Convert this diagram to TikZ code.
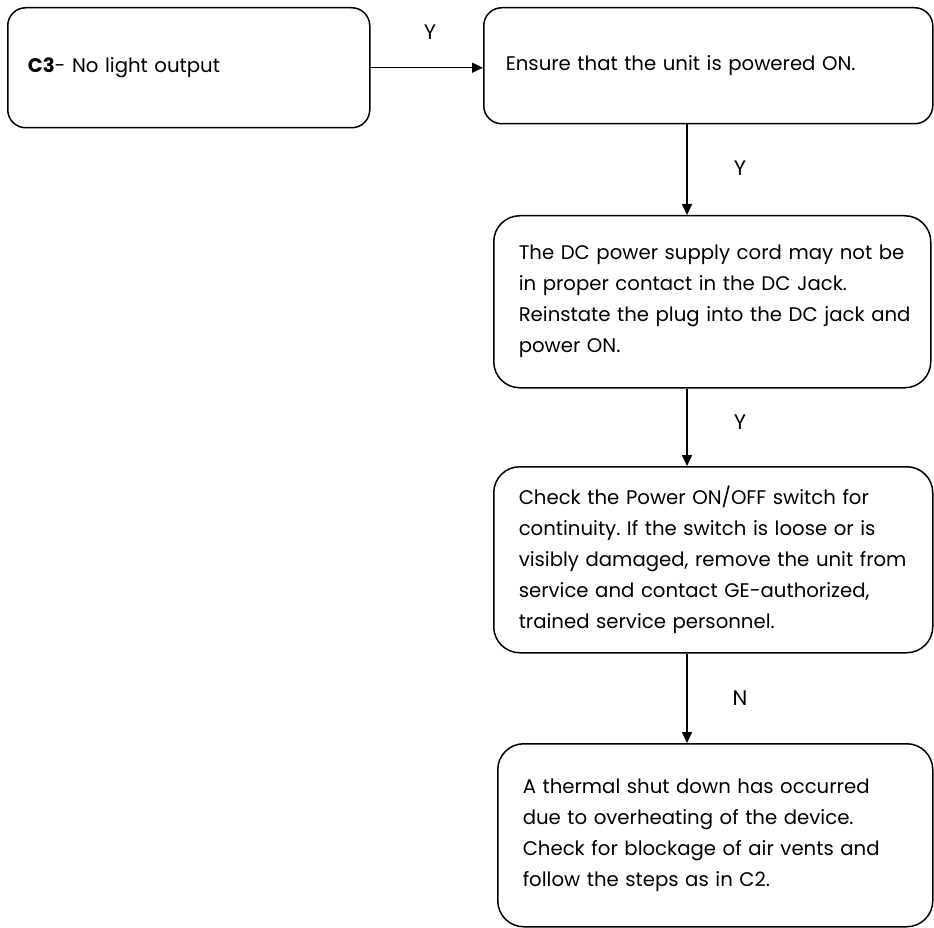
\documentclass[tikz,border=0pt]{standalone}
\usepackage{fontspec}
\setmainfont{Poppins}
\usetikzlibrary{arrows.meta}
\begin{document}
\frenchspacing
\begin{tikzpicture}[x=1pt,y=-1pt,
  box/.style={draw, line width=1.5pt, rounded corners=#1, anchor=north west,
    align=left, inner ysep=0pt, font=\fontsize{19.7}{31}\selectfont},
  box/.default=26pt,
  conn/.style={-{Triangle[length=11pt,width=10pt]}, line width=1.5pt},
  lbl/.style={font=\fontsize{21}{25}\selectfont, inner sep=0pt}]
\useasboundingbox (0,0) rectangle (934,928);
\coordinate (ax) at (687,0);

\node[box=18pt, inner xsep=20pt, text width=322pt, minimum width=362pt, minimum height=120pt]
  (c3) at (7,7) {\textbf{C3}- No light output};
\node[box=18pt, inner xsep=22pt, text width=405pt, minimum width=449pt, minimum height=116pt]
  (ensure) at (483,7) {Ensure that the unit is powered ON.};
\node[box, inner xsep=25pt, text width=387pt, minimum width=437pt, minimum height=172pt]
  (dc) at (493,215) {\mbox{The DC power supply cord may not be}\\\mbox{in proper contact in the DC Jack.}\\\mbox{Reinstate the plug into the DC jack and}\\power ON.};
\node[box, inner xsep=25pt, text width=389pt, minimum width=439pt, minimum height=186pt]
  (sw) at (493,466) {\mbox{Check the Power ON/OFF switch for}\\\mbox{continuity. If the switch is loose or is}\\\mbox{visibly damaged, remove the unit from}\\\mbox{service and contact GE-authorized,}\\trained service personnel.};
\node[box, inner xsep=25pt, text width=385pt, minimum width=435pt, minimum height=183pt]
  (th) at (497,743) {\mbox{A thermal shut down has occurred}\\\mbox{due to overheating of the device.}\\\mbox{Check for blockage of air vents and}\\follow the steps as in C2.};

\draw[conn] (c3.east) -- (c3.east -| ensure.west);
\draw[conn] (ensure.south -| ax) -- (dc.north -| ax);
\draw[conn] (dc.south -| ax) -- (sw.north -| ax);
\draw[conn] (sw.south -| ax) -- (th.north -| ax);

\node[lbl] (y1) at (430,32) {Y};
\node[lbl] (y2) at (740,168) {Y};
\node[lbl] (y3) at (740,422) {Y};
\node[lbl] (n1) at (740,698) {N};
\end{tikzpicture}
\end{document}
